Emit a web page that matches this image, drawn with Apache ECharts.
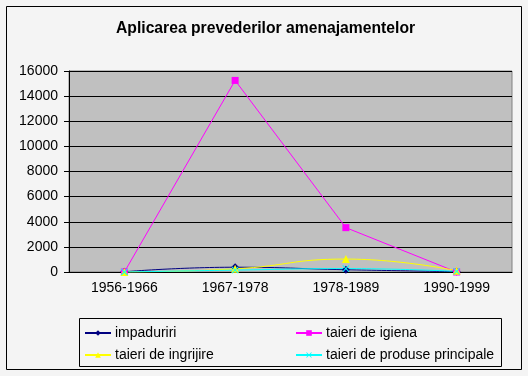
<!DOCTYPE html>
<html>
<head>
<meta charset="utf-8">
<script src="https://cdn.jsdelivr.net/npm/echarts@6/dist/echarts.min.js"></script>
<style>
  html, body { margin: 0; padding: 0; background: #f4f4f4; }
  #chart { width: 528px; height: 376px; }
</style>
</head>
<body>
<div id="chart"></div>
<script>
// perioade
const categories = ['1956-1966', '1967-1978', '1978-1989', '1990-1999']
// valori
const impaduriri = [20, 380, 180, 30]
const taieriIgiena = [0, 15250, 3530, 0]
const taieriIngrijire = [0, 250, 1030, 100]
const taieriProduse = [0, 150, 270, 50]

const xSymbol = 'path://M0,1L1,0L5,4L9,0L10,1L6,5L10,9L9,10L5,6L1,10L0,9L4,5Z'
const font = 'Liberation Sans, Arial, sans-serif'

function line(name, data, color, symbol, size, smooth) {
  return {
    name: name,
    type: 'line',
    data: data,
    smooth: smooth,
    symbol: symbol,
    symbolSize: size,
    showSymbol: true,
    lineStyle: { color: color, width: 1 },
    itemStyle: { color: color, borderWidth: 0 },
    emphasis: { disabled: true },
  }
}

const legendBase = {
  orient: 'vertical',
  top: 321,
  itemWidth: 26,
  itemHeight: 7,
  itemGap: 8,
  textStyle: { fontFamily: font, fontSize: 14, color: '#000', padding: [0, 0, 0, -1] },
}

let option = {
  backgroundColor: '#f4f4f4',
  animation: false,
  title: {
    text: 'Aplicarea prevederilor amenajamentelor',
    left: 111,
    top: 16,
    textStyle: { fontFamily: font, fontSize: 15.7, fontWeight: 'bold', color: '#000' },
  },
  grid: {
    left: 69,
    right: 16,
    top: 71,
    bottom: 104,
    show: true,
    backgroundColor: '#c0c0c0',
    borderColor: '#808080',
    borderWidth: 1,
  },
  legend: [
    Object.assign({}, legendBase, { data: ['impaduriri', 'taieri de ingrijire'], left: 79 }),
    Object.assign({}, legendBase, { data: ['taieri de igiena', 'taieri de produse principale'], left: 290 }),
  ],
  xAxis: {
    type: 'category',
    data: categories,
    boundaryGap: true,
    axisLine: { lineStyle: { color: '#000', width: 1 } },
    axisTick: { length: 5, lineStyle: { color: '#000' } },
    axisLabel: { fontFamily: font, fontSize: 14, color: '#000', margin: 9 },
  },
  yAxis: {
    type: 'value',
    min: 0,
    max: 16000,
    interval: 2000,
    axisLine: { show: true, lineStyle: { color: '#000', width: 1 } },
    axisTick: { show: true, length: 5, lineStyle: { color: '#000' } },
    axisLabel: {
      fontFamily: font, fontSize: 14, color: '#000', margin: 11,
      formatter: (v) => String(v),
    },
    splitLine: { show: true, lineStyle: { color: '#000', width: 1 } },
  },
  graphic: [
    {
      type: 'rect',
      shape: { x: 6.5, y: 6.5, width: 515, height: 363 },
      style: { fill: 'none', stroke: '#000', lineWidth: 1 },
      silent: true,
    },
    {
      type: 'rect',
      shape: { x: 79.5, y: 318.5, width: 422, height: 48 },
      style: { fill: 'none', stroke: '#000', lineWidth: 1 },
      silent: true,
    },
  ],
  series: [
    line('impaduriri', impaduriri, '#000080', 'diamond', 8, true),
    line('taieri de igiena', taieriIgiena, '#ff00ff', 'rect', 7, false),
    line('taieri de ingrijire', taieriIngrijire, '#ffff00', 'triangle', 8, true),
    line('taieri de produse principale', taieriProduse, '#00ffff', xSymbol, 7, true),
  ],
}

let myChart = echarts.init(document.getElementById('chart'))
myChart.setOption(option)
</script>
</body>
</html>
